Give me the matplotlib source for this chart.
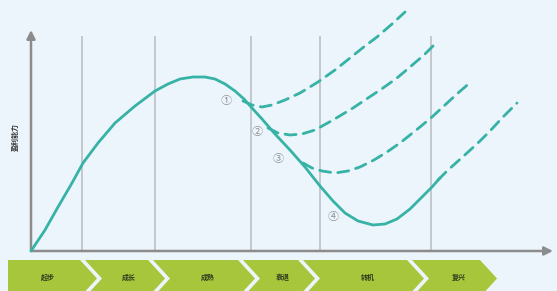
import matplotlib
matplotlib.use("Agg")
import matplotlib.pyplot as plt
from matplotlib.patches import Polygon

plt.rcParams['font.family'] = ['Noto Sans CJK SC', 'DejaVu Sans']

# ---------------- data (chart units: x = time, y = ability) ----------------
stage_labels = ["起步", "成长", "成熟", "衰退", "转机", "复兴"]
stage_lines_x = [51, 124, 220, 289, 400]

main_x = [0, 14, 27, 41, 52, 67, 84, 104, 124, 137, 149, 162, 174, 184, 194, 204, 213,
          221, 231, 244, 259, 274, 289, 302, 314, 327, 342, 354, 366, 379, 391, 401, 409]
main_y = [0, 21, 44, 68, 88, 108, 128, 145, 160, 167, 172, 174, 174, 172, 167, 160, 152,
          143, 132, 117, 101, 84, 65, 50, 38, 30, 26, 27, 32, 42, 54, 64, 73]

dash1_x = [212, 221, 231, 241, 254, 269, 287, 304, 319, 334, 346, 361, 374]
dash1_y = [150, 146, 144, 146, 151, 158, 169, 181, 193, 205, 214, 227, 239]
dash2_x = [237, 247, 259, 271, 284, 302, 322, 337, 352, 366, 379, 393, 406]
dash2_y = [123, 118, 116, 117, 121, 131, 143, 153, 163, 173, 184, 196, 209]
dash3_x = [272, 281, 291, 304, 317, 329, 343, 356, 369, 379, 389, 401, 414, 427, 441]
dash3_y = [88, 83, 80, 78, 80, 84, 91, 99, 108, 116, 124, 134, 146, 158, 170]
dash4_x = [407, 416, 426, 436, 449, 459, 472, 486]
dash4_y = [71, 80, 89, 98, 110, 120, 134, 148]

markers = ["①", "②", "③", "④"]
marker_x = [195, 226, 247, 302]
marker_y = [150, 119, 92, 34]

y_label = "盈利能力"

TEAL = "#36b2a6"
AXIS = "#8c8c8c"
GRID = "#b9bcbf"
GREEN = "#a7c63b"

W, H = 557, 291
fig = plt.figure(figsize=(W / 100, H / 100), dpi=100)
fig.patch.set_facecolor("#ecf5fb")

# overlay in pixel coordinates for the stage bar
ov = fig.add_axes([0, 0, 1, 1], zorder=0)
ov.set_xlim(0, W)
ov.set_ylim(H, 0)
ov.axis("off")
ov.patch.set_alpha(0)

tops = [8, 80, 148, 238, 298, 407, 480]
gap = 5
d = 17
yt, yb = 260, 297
ym = (yt + yb) / 2
for i, lab in enumerate(stage_labels):
    xl = tops[i] + (gap if i > 0 else 0)
    xr = tops[i + 1]
    pts = [(xl, yt), (xr, yt), (xr + d, ym), (xr, yb), (xl, yb)]
    if i > 0:
        pts.append((xl + d, ym))
    ov.add_patch(Polygon(pts, closed=True, facecolor=GREEN, edgecolor="none"))
    cx = (xl + (d if i > 0 else 0) + xr + d * 0.5) / 2
    ov.text(cx, 277, lab, ha="center", va="center", fontsize=5,
            color="#2f3a1e", fontweight="bold")

# main chart axes
x0, x1, ytop, ybot = 31, 553, 31, 251
ax = fig.add_axes([x0 / W, (H - ybot) / H, (x1 - x0) / W, (ybot - ytop) / H], zorder=1)
ax.set_xlim(0, x1 - x0)
ax.set_ylim(0, ybot - ytop)
ax.patch.set_alpha(0)
for s in ax.spines.values():
    s.set_visible(False)
ax.set_xticks([])
ax.set_yticks([])

for xv in stage_lines_x:
    ax.plot([xv, xv], [0, 215], color=GRID, lw=1.1, zorder=1, solid_capstyle="butt")

# axes with arrows
ax.annotate("", xy=(522, 0), xytext=(0, 0),
            arrowprops=dict(arrowstyle="-|>,head_length=0.5,head_width=0.25", color=AXIS, lw=1.8,
                            shrinkA=0, shrinkB=0), annotation_clip=False)
ax.annotate("", xy=(0, 221), xytext=(0, 0),
            arrowprops=dict(arrowstyle="-|>,head_length=0.5,head_width=0.25", color=AXIS, lw=1.8,
                            shrinkA=0, shrinkB=0), annotation_clip=False)

ax.plot(main_x, main_y, color=TEAL, lw=2.0, zorder=3, solid_capstyle="round",
        solid_joinstyle="round", clip_on=False)
for xs, ys in [(dash1_x, dash1_y), (dash2_x, dash2_y), (dash3_x, dash3_y), (dash4_x, dash4_y)]:
    ax.plot(xs, ys, color=TEAL, lw=2.0, ls=(0, (4, 2.6)), zorder=3, dash_capstyle="round",
            clip_on=False)

for m, mx, my in zip(markers, marker_x, marker_y):
    ax.text(mx, my, m, ha="center", va="center", fontsize=8, color="#8f9396", zorder=4)

ax.text(-16, 114, y_label, rotation=90, ha="center", va="center", fontsize=5,
        color="#333333", fontweight="bold")

fig.savefig("out.png", dpi=100, facecolor=fig.get_facecolor())
